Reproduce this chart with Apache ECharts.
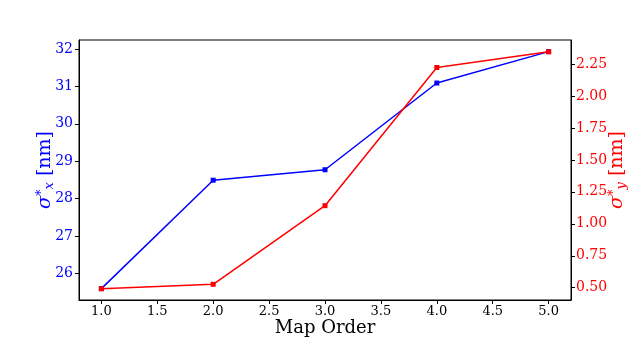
<!DOCTYPE html>
<html><head><meta charset="utf-8">
<script src="https://cdn.jsdelivr.net/npm/echarts@6/dist/echarts.min.js"></script>
<style>html,body{margin:0;padding:0;background:#fff}#c{width:634px;height:338px}</style>
</head><body><div id="c"></div>
<script>
const mapOrder = [1, 2, 3, 4, 5];
const sigmaX = [25.59, 28.49, 28.77, 31.09, 31.93];
const sigmaY = [0.492, 0.527, 1.142, 2.223, 2.346];
const xTicks = [1.0, 1.5, 2.0, 2.5, 3.0, 3.5, 4.0, 4.5, 5.0];
const leftTicks = [26, 27, 28, 29, 30, 31, 32];
const rightTicks = [0.50, 0.75, 1.00, 1.25, 1.50, 1.75, 2.00, 2.25];

const font = 'DejaVu Serif';
const chart = echarts.init(document.getElementById('c'));
const nameRich = (color) => ({
  a: {fontFamily: font, fontSize: 19, color: color},
  s: {fontFamily: font, fontSize: 19, fontStyle: 'italic', color: color},
  sup: {fontFamily: font, fontSize: 13, color: color, verticalAlign: 'top', padding: [0, 0, 6, 0]},
  sub: {fontFamily: font, fontSize: 13, fontStyle: 'italic', color: color, verticalAlign: 'bottom', padding: [8, 0, 0, 0]}
});
chart.setOption({
  animation: false,
  backgroundColor: '#fff',
  grid: {left: 79, right: 63, top: 40, bottom: 38, show: true, borderColor: '#000', borderWidth: 1, containLabel: false, outerBoundsMode: 'none'},
  xAxis: {
    type: 'value', min: 0.8, max: 5.2,
    name: 'Map Order', nameLocation: 'middle', nameGap: 19, nameMoveOverlap: false,
    nameTextStyle: {fontFamily: font, fontSize: 18, color: '#000'},
    axisLine: {show: true, lineStyle: {color: '#000', width: 1}},
    axisTick: {show: true, length: 4, customValues: xTicks, lineStyle: {color: '#000'}},
    axisLabel: {customValues: xTicks, fontFamily: font, fontSize: 13, color: '#000', margin: 5, formatter: v => v.toFixed(1)},
    splitLine: {show: false}
  },
  yAxis: [{
    type: 'value', min: 25.285, max: 32.241, position: 'left',
    name: '{s|σ}{sup|*}{sub|x}{a| [nm]}', nameLocation: 'middle', nameGap: 23, nameRotate: 90, nameMoveOverlap: false,
    nameTextStyle: {rich: nameRich('#0000ff')},
    axisLine: {show: true, lineStyle: {color: '#000', width: 1}},
    axisTick: {show: true, length: 4, customValues: leftTicks, lineStyle: {color: '#000'}},
    axisLabel: {customValues: leftTicks, fontFamily: font, fontSize: 14, color: '#0000ff', margin: 6, formatter: v => String(v)},
    splitLine: {show: false}
  }, {
    type: 'value', min: 0.404, max: 2.438, position: 'right',
    name: '{s|σ}{sup|*}{sub|y}{a| [nm]}', nameLocation: 'middle', nameGap: 36, nameRotate: 90, nameMoveOverlap: false,
    nameTextStyle: {rich: nameRich('#ff0000')},
    axisLine: {show: true, lineStyle: {color: '#000', width: 1}},
    axisTick: {show: true, length: 4, customValues: rightTicks, lineStyle: {color: '#000'}},
    axisLabel: {customValues: rightTicks, fontFamily: font, fontSize: 14, color: '#ff0000', margin: 5, formatter: v => v.toFixed(2)},
    splitLine: {show: false}
  }],
  series: [{
    type: 'line', yAxisIndex: 0,
    data: mapOrder.map((x, i) => [x, sigmaX[i]]),
    symbol: 'rect', symbolSize: 5, showSymbol: true,
    lineStyle: {color: '#0000ff', width: 1.5}, itemStyle: {color: '#0000ff'}
  }, {
    type: 'line', yAxisIndex: 1,
    data: mapOrder.map((x, i) => [x, sigmaY[i]]),
    symbol: 'rect', symbolSize: 5, showSymbol: true,
    lineStyle: {color: '#ff0000', width: 1.5}, itemStyle: {color: '#ff0000'}
  }]
});
</script></body></html>
